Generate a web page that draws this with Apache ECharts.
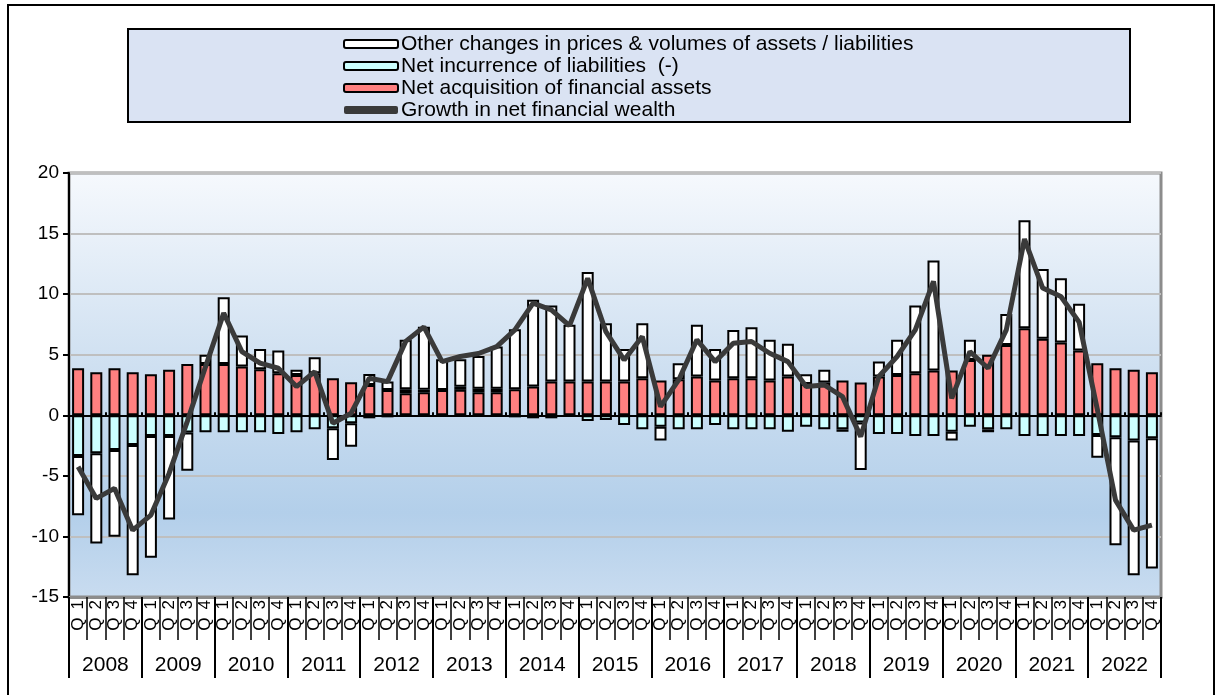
<!DOCTYPE html>
<html>
<head>
<meta charset="utf-8">
<script src="https://cdn.jsdelivr.net/npm/echarts@6/dist/echarts.min.js"></script>
<style>
  html, body { margin: 0; padding: 0; background: #fff; }
  #chart { width: 1225px; height: 695px; }
</style>
</head>
<body>
<div id="chart"></div>
<script>
const years = ['2008', '2009', '2010', '2011', '2012', '2013', '2014', '2015', '2016', '2017', '2018', '2019', '2020', '2021', '2022']
const quarterNames = ['Q1', 'Q2', 'Q3', 'Q4']

// net acquisition of financial assets
const assets = [
  3.88, 3.55, 3.88, 3.55,
  3.39, 3.75, 4.24, 4.24,
  4.24, 4.02, 3.8, 3.47,
  3.33, 3.47, 3.06, 2.73,
  2.5, 2.09, 1.82, 1.9,
  2.09, 2.1, 1.9, 1.9,
  2.15, 2.37, 2.78, 2.78,
  2.78, 2.78, 2.78, 3.06,
  2.87, 2.98, 3.2, 2.87,
  3.06, 3.06, 2.87, 3.2,
  2.59, 2.7, 2.87, 2.7,
  3.2, 3.33, 3.47, 3.69,
  3.69, 4.57, 4.99, 5.81,
  7.19, 6.31, 6.0, 5.34,
  4.3, 3.88, 3.75, 3.55
]

// net incurrence of liabilities (-)
const liabilities = [
  -3.36, -3.14, -2.87, -2.45,
  -1.71, -1.71, -1.43, -1.4,
  -1.4, -1.4, -1.4, -1.54,
  -1.4, -1.16, -1.07, -0.66,
  -0.25, -0.17, 0.33, 0.2,
  -0.1, 0.25, 0.3, 0.3,
  -0.17, -0.25, -0.25, -0.1,
  -0.47, -0.39, -0.8, -1.16,
  -0.94, -1.16, -1.16, -0.8,
  -1.16, -1.16, -1.16, -1.35,
  -0.94, -1.16, -1.16, -0.6,
  -1.54, -1.54, -1.71, -1.71,
  -1.35, -0.94, -1.16, -1.16,
  -1.71, -1.71, -1.71, -1.71,
  -1.63, -1.82, -2.09, -1.9
]

// other changes in prices & volumes
const otherChanges = [
  -4.9, -7.44, -7.16, -10.75,
  -10.05, -6.89, -3.14, 0.75,
  5.51, 2.56, 1.68, 1.87,
  0.42, 1.32, -2.62, -1.93,
  0.9, 0.7, 4.08, 5.2,
  2.54, 2.28, 2.7, 3.47,
  4.95, 7.16, 6.28, 4.69,
  9.04, 4.82, 2.7, 4.54,
  -1.15, 1.32, 4.27, 2.61,
  3.99, 4.21, 3.36, 2.7,
  0.8, 1.05, -0.2, -3.92,
  1.23, 2.9, 5.59, 9.09,
  -0.74, 1.66, -0.24, 2.56,
  8.9, 5.76, 5.32, 3.86,
  -1.87, -8.9, -11.11, -10.74
]

// growth in net financial wealth
const growth = [
  -4.24, -6.86, -6.03, -9.48,
  -8.24, -4.8, -0.5, 4.0,
  8.43, 5.26, 4.3, 3.88,
  2.37, 3.6, -0.66, 0.17,
  3.06, 2.78, 6.1, 7.3,
  4.43, 4.85, 5.1, 5.67,
  7.05, 9.26, 8.7, 7.4,
  11.3, 6.9, 4.57, 6.5,
  0.72, 2.92, 6.23, 4.43,
  5.95, 6.09, 5.12, 4.43,
  2.37, 2.5, 1.54, -1.76,
  3.2, 4.85, 7.05, 11.05,
  1.4, 5.26, 3.88, 7.05,
  14.55, 10.5, 9.8, 7.69,
  0.5, -7.0, -9.48, -9.06
]

const quarters = []
years.forEach(y => quarterNames.forEach(q => quarters.push(q)))

const nameOther = 'Other changes in prices & volumes of assets / liabilities'
const nameLiab = 'Net incurrence of liabilities  (-)'
const nameAssets = 'Net acquisition of financial assets'
const nameGrowth = 'Growth in net financial wealth'

const font = 'Liberation Sans, Arial, sans-serif'

let myChart = echarts.init(document.getElementById('chart'))
myChart.setOption({
  animation: false,
  textStyle: { fontFamily: font, color: '#000' },
  graphic: [
    {
      type: 'rect',
      shape: { x: 8, y: 5, width: 1206, height: 700 },
      style: { fill: 'none', stroke: '#000', lineWidth: 2 },
      z: -10
    },
    {
      type: 'rect',
      shape: { x: 128, y: 29, width: 1002, height: 93 },
      style: { fill: '#dae3f3', stroke: '#000', lineWidth: 2 },
      z: -5
    }
  ],
  legend: {
    orient: 'vertical',
    left: 343,
    top: 33,
    padding: 0,
    itemGap: 0,
    itemWidth: 54,
    itemHeight: 8,
    textStyle: { fontSize: 21, lineHeight: 22, color: '#000', fontFamily: font, padding: [0, 0, 0, -2] },
    data: [
      nameOther,
      nameLiab,
      nameAssets,
      { name: nameGrowth, icon: 'roundRect', itemStyle: { color: '#3a3a3a', borderWidth: 0 } }
    ]
  },
  grid: {
    left: 69,
    right: 64,
    top: 173,
    bottom: 98,
    show: true,
    borderColor: '#8c8c8c',
    borderWidth: 3,
    backgroundColor: new echarts.graphic.LinearGradient(0, 0, 0, 1, [
      { offset: 0, color: '#f6f9fd' },
      { offset: 0.45, color: '#cfe0f1' },
      { offset: 0.8, color: '#b3cfea' },
      { offset: 1, color: '#c9dcf0' }
    ])
  },
  xAxis: [
    {
      type: 'category',
      data: quarters,
      position: 'bottom',
      axisLine: { onZero: false, lineStyle: { color: '#8c8c8c', width: 3 } },
      axisTick: { show: true, length: 43, lineStyle: { color: '#000', width: 1.5 } },
      axisLabel: {
        interval: 0,
        rotate: 90,
        color: '#000',
        margin: 3,
        formatter: v => '{q|' + v.charAt(0) + '}{n|' + v.slice(1) + '}',
        rich: {
          q: { fontSize: 17, color: '#000', padding: [0, 8, 0, 0] },
          n: { fontSize: 17, color: '#000' }
        }
      }
    },
    {
      type: 'category',
      data: years,
      position: 'bottom',
      axisLine: { show: false, onZero: false },
      axisTick: { show: true, length: 81, lineStyle: { color: '#000', width: 2 } },
      axisLabel: { interval: 0, fontSize: 21, color: '#000', margin: 58 }
    },
    {
      type: 'category',
      data: quarters,
      axisLine: { onZero: true, lineStyle: { color: '#000', width: 2 } },
      axisTick: { show: true, length: 3, lineStyle: { color: '#000', width: 2 } },
      axisLabel: { show: false }
    }
  ],
  yAxis: {
    type: 'value',
    min: -15,
    max: 20,
    interval: 5,
    axisLine: { show: true, lineStyle: { color: '#000', width: 2 } },
    axisTick: { show: true, length: 6, lineStyle: { color: '#000', width: 2 } },
    axisLabel: { fontSize: 19, color: '#000', margin: 10 },
    splitLine: { lineStyle: { color: '#bfbfbf', width: 2 } }
  },
  series: [
    {
      name: nameAssets,
      type: 'bar',
      stack: 'total',
      barWidth: 12,
      itemStyle: { color: '#ff8080', borderColor: '#000', borderWidth: 2 },
      data: assets
    },
    {
      name: nameLiab,
      type: 'bar',
      stack: 'total',
      barWidth: 12,
      itemStyle: { color: '#ccffff', borderColor: '#000', borderWidth: 2 },
      data: liabilities
    },
    {
      name: nameOther,
      type: 'bar',
      stack: 'total',
      barWidth: 12,
      itemStyle: { color: '#ffffff', borderColor: '#000', borderWidth: 2 },
      data: otherChanges
    },
    {
      name: nameGrowth,
      type: 'line',
      symbol: 'none',
      z: 5,
      lineStyle: { color: '#3a3a3a', width: 5 },
      itemStyle: { color: '#3a3a3a' },
      data: growth
    }
  ]
})
</script>
</body>
</html>
